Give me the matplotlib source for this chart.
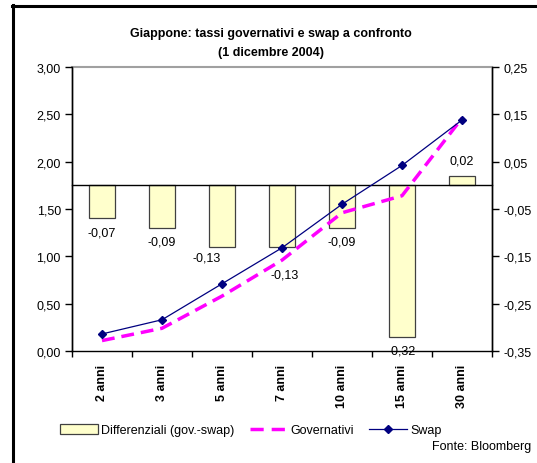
import matplotlib
matplotlib.use("Agg")
import matplotlib.pyplot as plt
from matplotlib.lines import Line2D
from matplotlib.patches import Patch
import numpy as np

plt.rcParams['font.family'] = ['Liberation Sans', 'DejaVu Sans']

# Data
scadenze = ["2 anni", "3 anni", "5 anni", "7 anni", "10 anni", "15 anni", "30 anni"]
swap = [0.18, 0.33, 0.71, 1.09, 1.55, 1.96, 2.44]
governativi = [0.11, 0.24, 0.58, 0.96, 1.46, 1.64, 2.46]
differenziali = [-0.07, -0.09, -0.13, -0.13, -0.09, -0.32, 0.02]

left_ticks = [0.0, 0.5, 1.0, 1.5, 2.0, 2.5, 3.0]
right_ticks = [-0.35, -0.25, -0.15, -0.05, 0.05, 0.15, 0.25]

# label offsets (points) for the bar value annotations
label_offsets = [(0, -10), (0, -10), (-11, -8), (2, -20), (0, -10), (0, -10), (0, 11)]

fig = plt.figure(figsize=(5.37, 4.64), dpi=100)
ax = fig.add_axes([72/537, 1-352/464, 420/537, 284/464])
ax2 = ax.twinx()

x = np.arange(len(scadenze))

# Bars on the secondary axis
ax2.bar(x, differenziali, width=0.42, color="#FFFFCC", edgecolor="#404040",
        linewidth=0.9, zorder=2)
ax2.set_ylim(-0.35, 0.25)
ax2.set_yticks(right_ticks)
ax2.set_yticklabels([f"{v:.2f}".replace(".", ",") for v in right_ticks])

for xi, v, off in zip(x, differenziali, label_offsets):
    ax2.annotate(f"{v:.2f}".replace(".", ","), (xi, v), xytext=off,
                 textcoords="offset points", ha="center", va="center",
                 fontsize=9, zorder=5)

# Zero line of the secondary axis with category ticks
ax2.spines['bottom'].set_position(('data', 0))
ax2.spines['bottom'].set_linewidth(1.0)
ax2.spines['top'].set_color("#a0a0a0")
ax2.spines['top'].set_linewidth(1.5)

# Lines on the primary axis (drawn above bars)
ax.set_zorder(ax2.get_zorder() + 1)
ax.patch.set_visible(False)
ax.plot(x, governativi, color="#FF00FF", linewidth=2.5, dashes=(3.7, 2.0), zorder=3)
ax.plot(x, swap, color="#000080", linewidth=0.9, marker="D", markersize=4.5,
        zorder=4)
ax.set_ylim(0, 3.0)
ax.set_yticks(left_ticks)
ax.set_yticklabels([f"{v:.2f}".replace(".", ",") for v in left_ticks])
ax.set_xlim(-0.5, 6.5)

ax.set_xticks(x)
ax.set_xticklabels(scadenze, rotation=90, fontweight="bold", fontsize=9)
ax.set_xticks(np.arange(-0.5, 7.0, 1.0), minor=True)
ax.tick_params(axis="x", which="major", length=0, pad=9)
ax.tick_params(axis="x", which="minor", length=4, direction="out", width=1)
ax2.tick_params(axis="x", which="minor", length=4, direction="out", width=1)
ax.tick_params(axis="y", labelsize=9, length=5, width=1, pad=3)
ax2.tick_params(axis="y", labelsize=9, length=5, width=1, pad=3)

for s in ["left", "right", "bottom"]:
    ax.spines[s].set_linewidth(1.0)
    ax2.spines[s].set_linewidth(1.0)
ax.spines["top"].set_visible(False)

# Title
fig.text(0.505, 1-34/464, "Giappone: tassi governativi e swap a confronto",
         ha="center", va="center", fontsize=9, fontweight="bold")
fig.text(0.505, 1-53/464, "(1 dicembre 2004)",
         ha="center", va="center", fontsize=9, fontweight="bold")

# Legend
handles = [
    Patch(facecolor="#FFFFCC", edgecolor="#404040", linewidth=0.9),
    Line2D([], [], color="#FF00FF", linewidth=2.5, dashes=(3.8, 2.3)),
    Line2D([], [], color="#000080", linewidth=0.9, marker="D", markersize=4.5),
]
fig.legend(handles, ["Differenziali (gov.-swap)", "Governativi", "Swap"],
           loc="center left", bbox_to_anchor=(60/537, 1-431/464), ncol=3,
           frameon=False, fontsize=9, handlelength=3.0, handleheight=0.8,
           handletextpad=0.3, columnspacing=1.2, borderpad=0, borderaxespad=0)

fig.text(432/537, 1-447/464, "Fonte: Bloomberg", ha="left", va="center",
         fontsize=9)

# Outer frame (left and top edges)
fig.add_artist(Line2D([13/537, 13/537], [0, 1-6/464], color="black",
                      linewidth=2.2, transform=fig.transFigure))
fig.add_artist(Line2D([12/537, 1], [1-7/464, 1-7/464], color="black",
                      linewidth=2.2, transform=fig.transFigure))

fig.savefig("out.png", dpi=100)
